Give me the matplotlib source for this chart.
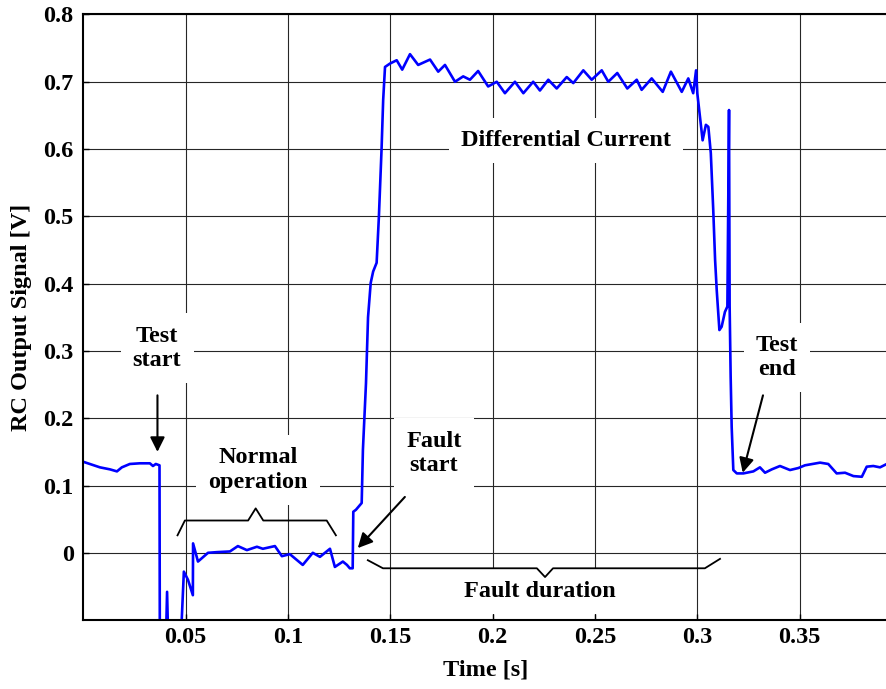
import matplotlib
matplotlib.use("Agg")
import matplotlib.pyplot as plt
import numpy as np

plt.rcParams['font.family'] = ['Liberation Serif', 'DejaVu Serif']
plt.rcParams['font.weight'] = 'bold'
plt.rcParams['axes.labelweight'] = 'bold'
plt.rcParams['font.size'] = 17.5

# Señal de salida del RC
tiempo = [0.0002, 0.0032, 0.0081, 0.0130, 0.0164, 0.0188, 0.0227, 0.0276, 0.0325, 0.0340,
          0.0354, 0.0372, 0.0374, 0.0398, 0.0409, 0.0420, 0.0466, 0.0491, 0.0511, 0.0535,
          0.0536, 0.0560, 0.0609, 0.0653, 0.0716, 0.0755, 0.0799, 0.0848, 0.0877, 0.0936,
          0.0970, 0.1009, 0.1072, 0.1121, 0.1156, 0.1205, 0.1229, 0.1268, 0.1288, 0.1302,
          0.1316, 0.1319, 0.1332, 0.1360, 0.1366, 0.1381, 0.1391, 0.1404, 0.1416, 0.1433,
          0.1444, 0.1457, 0.1465, 0.1474, 0.1498, 0.1531, 0.1558, 0.1596, 0.1636, 0.1694,
          0.1734, 0.1767, 0.1816, 0.1856, 0.1889, 0.1929, 0.1978, 0.2020, 0.2060, 0.2109,
          0.2150, 0.2198, 0.2231, 0.2272, 0.2313, 0.2362, 0.2394, 0.2443, 0.2484, 0.2533,
          0.2565, 0.2609, 0.2658, 0.2704, 0.2728, 0.2777, 0.2831, 0.2871, 0.2924, 0.2956,
          0.2980, 0.2994, 0.3000, 0.3013, 0.3026, 0.3042, 0.3054, 0.3066, 0.3078, 0.3087,
          0.3095, 0.3108, 0.3119, 0.3135, 0.3147, 0.3155, 0.3158, 0.3160, 0.3163, 0.3168,
          0.3176, 0.3193, 0.3225, 0.3274, 0.3306, 0.3331, 0.3364, 0.3404, 0.3453, 0.3494,
          0.3526, 0.3600, 0.3640, 0.3681, 0.3722, 0.3763, 0.3804, 0.3828, 0.3860, 0.3893,
          0.3926]
senal = [0.135, 0.132, 0.127, 0.124, 0.121, 0.127, 0.132, 0.133, 0.133, 0.129,
         0.132, 0.130, -0.200, -0.200, -0.058, -0.200, -0.200, -0.028, -0.040, -0.063,
         0.014, -0.013, 0.000, 0.001, 0.002, 0.010, 0.004, 0.009, 0.006, 0.010,
         -0.005, -0.002, -0.018, 0.000, -0.006, 0.006, -0.021, -0.013, -0.018, -0.023,
         -0.023, 0.061, 0.064, 0.074, 0.153, 0.252, 0.350, 0.401, 0.418, 0.431,
         0.499, 0.599, 0.673, 0.722, 0.727, 0.732, 0.718, 0.741, 0.725, 0.733,
         0.715, 0.725, 0.700, 0.708, 0.703, 0.716, 0.693, 0.700, 0.683, 0.700,
         0.683, 0.700, 0.687, 0.703, 0.690, 0.707, 0.698, 0.717, 0.703, 0.717,
         0.700, 0.713, 0.690, 0.703, 0.688, 0.705, 0.685, 0.715, 0.685, 0.705,
         0.683, 0.717, 0.683, 0.648, 0.613, 0.636, 0.633, 0.594, 0.509, 0.435,
         0.390, 0.331, 0.336, 0.358, 0.366, 0.658, 0.367, 0.326, 0.262, 0.187,
         0.123, 0.118, 0.118, 0.121, 0.127, 0.119, 0.124, 0.129, 0.123, 0.126,
         0.130, 0.134, 0.132, 0.118, 0.119, 0.114, 0.113, 0.128, 0.129, 0.127,
         0.132]

xticks = [0.05, 0.1, 0.15, 0.2, 0.25, 0.3, 0.35]
xtick_labels = ['0.05', '0.1', '0.15', '0.2', '0.25', '0.3', '0.35']
yticks = [0, 0.1, 0.2, 0.3, 0.4, 0.5, 0.6, 0.7, 0.8]
ytick_labels = ['0', '0.1', '0.2', '0.3', '0.4', '0.5', '0.6', '0.7', '0.8']

fig = plt.figure(figsize=(8.87, 6.89), dpi=100)
ax = fig.add_axes([0.094, 0.100, 0.906, 0.879])

ax.plot(tiempo, senal, color='#0000ff', linewidth=1.9, zorder=2)

ax.set_xlim(0, 0.3927)
ax.set_ylim(-0.1, 0.8)
ax.set_xticks(xticks)
ax.set_xticklabels(xtick_labels)
ax.set_yticks(yticks)
ax.set_yticklabels(ytick_labels)
ax.tick_params(direction='in', length=4, width=1)
ax.tick_params(axis='x', pad=5)
ax.tick_params(axis='y', pad=7)
ax.grid(color='0.15', linestyle='-', linewidth=0.8)
ax.set_axisbelow(True)
for lado in ['left', 'bottom', 'top']:
    ax.spines[lado].set_linewidth(1.5)
ax.spines['right'].set_visible(False)

ax.set_xlabel('Time [s]', labelpad=8)
ax.set_ylabel('RC Output Signal [V]', labelpad=8)

caja = dict(boxstyle='square,pad=0.5', facecolor='white', edgecolor='none')
flecha = dict(arrowstyle='-|>', color='black', lw=1.5, mutation_scale=22, shrinkA=0, shrinkB=0)

# Textos y flechas
ax.text(0.036, 0.304, 'Test\nstart', ha='center', va='center', bbox=caja, zorder=4)
ax.annotate('', xy=(0.0362, 0.150), xytext=(0.0362, 0.234), arrowprops=flecha, zorder=5)

ax.text(0.0854, 0.123, 'Normal\noperation', ha='center', va='center', bbox=caja, zorder=4)
ax.plot([0.0460, 0.0496, 0.0805, 0.0842, 0.0879, 0.1189, 0.1234],
        [0.026, 0.048, 0.048, 0.066, 0.048, 0.048, 0.026], color='black', lw=1.3, zorder=5)

ax.text(0.1713, 0.148, 'Fault\nstart', ha='center', va='center', bbox=caja, zorder=4)
ax.annotate('', xy=(0.1341, 0.007), xytext=(0.1571, 0.083), arrowprops=flecha, zorder=5)

ax.text(0.2358, 0.613, 'Differential Current', ha='center', va='center', bbox=caja, zorder=4)

ax.text(0.339, 0.290, 'Test\nend', ha='center', va='center', bbox=caja, zorder=4)
ax.annotate('', xy=(0.3222, 0.119), xytext=(0.3321, 0.234), arrowprops=flecha, zorder=5)

ax.text(0.2231, -0.058, 'Fault duration', ha='center', va='center', bbox=caja, zorder=4)
ax.plot([0.1390, 0.1464, 0.2216, 0.2256, 0.2295, 0.3037, 0.3111],
        [-0.011, -0.023, -0.023, -0.036, -0.023, -0.023, -0.009], color='black', lw=1.3, zorder=5)

fig.savefig('out.png', dpi=100)
